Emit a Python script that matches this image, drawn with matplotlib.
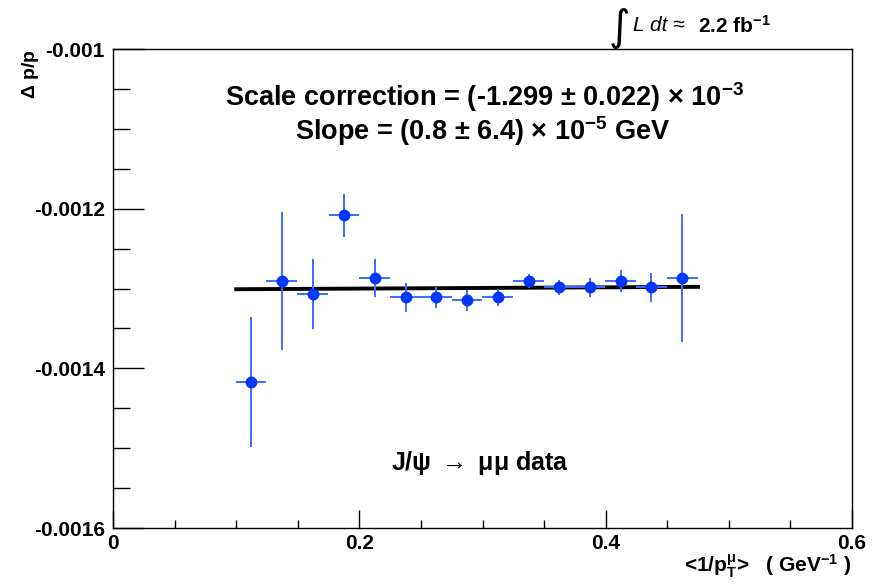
import numpy as np
import matplotlib
matplotlib.use("Agg")
from matplotlib import pyplot as plt
from matplotlib.ticker import MultipleLocator

# data
x_val = [0.112, 0.137, 0.162, 0.1875, 0.2124, 0.2376, 0.2625, 0.2874,
         0.3123, 0.3374, 0.3624, 0.3873, 0.4121, 0.437, 0.4622]
x_err = [0.0125] * 15
y_val = [-0.001417, -0.0012906, -0.0013069, -0.001208, -0.0012868, -0.001311,
         -0.001311, -0.0013148, -0.001311, -0.0012906, -0.0012985, -0.0012985,
         -0.0012906, -0.0012985, -0.0012868]
y_err = [0.000081, 0.000087, 0.000044, 0.000027, 0.000024, 0.000018,
         0.0000135, 0.0000135, 0.000011, 0.000009, 0.0000095, 0.000012,
         0.000014, 0.000018, 0.00008]

fit_a = -1.3017e-3
fit_b = 0.8e-5
fit_range = [0.1, 0.475]

plt.rcParams['font.family'] = ['Liberation Sans', 'DejaVu Sans']
plt.rcParams['mathtext.fontset'] = 'custom'
plt.rcParams['mathtext.rm'] = 'Liberation Sans:bold'
plt.rcParams['mathtext.bf'] = 'Liberation Sans:bold'
plt.rcParams['mathtext.it'] = 'Liberation Sans:italic'
plt.rcParams['mathtext.default'] = 'bf'

fig = plt.figure(figsize=(8.79, 5.87), dpi=100)
ax = fig.add_axes([0.1286, 0.1005, 0.8407, 0.816])

#fit line
xf = np.array(fit_range)
ax.plot(xf, fit_a + fit_b * xf, color='black', lw=2.8, zorder=2)

#data points
ax.errorbar(x_val, y_val, xerr=x_err, yerr=y_err, fmt='none',
            ecolor='#3d6bff', elinewidth=1.4, capsize=0, zorder=3)
ax.plot(x_val, y_val, 'o', color='#0036ff', ms=7.5, mec='#0036ff', zorder=4)

ax.set_xlim(0, 0.6)
ax.set_ylim(-0.0016, -0.001)
ax.xaxis.set_minor_locator(MultipleLocator(0.05))
ax.yaxis.set_minor_locator(MultipleLocator(0.00005))
ax.set_xticks([0, 0.2, 0.4, 0.6])
ax.set_xticklabels(['0', '0.2', '0.4', '0.6'])
ax.set_yticks([-0.0016, -0.0014, -0.0012, -0.001])
ax.set_yticklabels(['-0.0016', '-0.0014', '-0.0012', '-0.001'])

ax.tick_params(which='both', direction='in', top=False, right=False,
               labelsize=15, width=1.0)
ax.tick_params(axis='y', which='major', length=22, pad=6)
ax.tick_params(axis='y', which='minor', length=12)
ax.tick_params(axis='x', which='major', length=13, pad=4)
ax.tick_params(axis='x', which='minor', length=6)
for lab in ax.get_xticklabels() + ax.get_yticklabels():
    lab.set_fontweight('bold')
for sp in ax.spines.values():
    sp.set_linewidth(1.0)

ax.text(0.503, 0.899, r'Scale correction = (-1.299 $\pm$ 0.022) $\times$ 10$^{-3}$',
        transform=ax.transAxes, ha='center', va='center', fontsize=19.5, fontweight='bold')
ax.text(0.5, 0.829, r'Slope = (0.8 $\pm$ 6.4) $\times$ 10$^{-5}$ GeV',
        transform=ax.transAxes, ha='center', va='center', fontsize=19.5, fontweight='bold')
ax.text(0.496, 0.136, r'J/$\psi$ $\rightarrow$ $\mu\mu$ data',
        transform=ax.transAxes, ha='center', va='center', fontsize=18, fontweight='bold')

fig.text(0.692, 0.953, '\u222b', fontsize=30, ha='left', va='center', family='DejaVu Sans')
fig.text(0.72, 0.956, 'L dt \u2248', fontsize=15, style='italic', ha='left', va='center')
fig.text(0.794, 0.956, r'2.2 fb$^{-1}$', fontsize=15, fontweight='bold', ha='left', va='center')

fig.text(0.035, 0.916, r'$\Delta$ p/p', rotation=90, ha='center', va='top',
         fontsize=14, fontweight='bold')
fig.text(0.969, 0.025, r'<1/p$_{T}^{\mu}$>   ( GeV$^{-1}$ )', ha='right', va='baseline',
         fontsize=15, fontweight='bold')

fig.savefig('out.png', dpi=100)
